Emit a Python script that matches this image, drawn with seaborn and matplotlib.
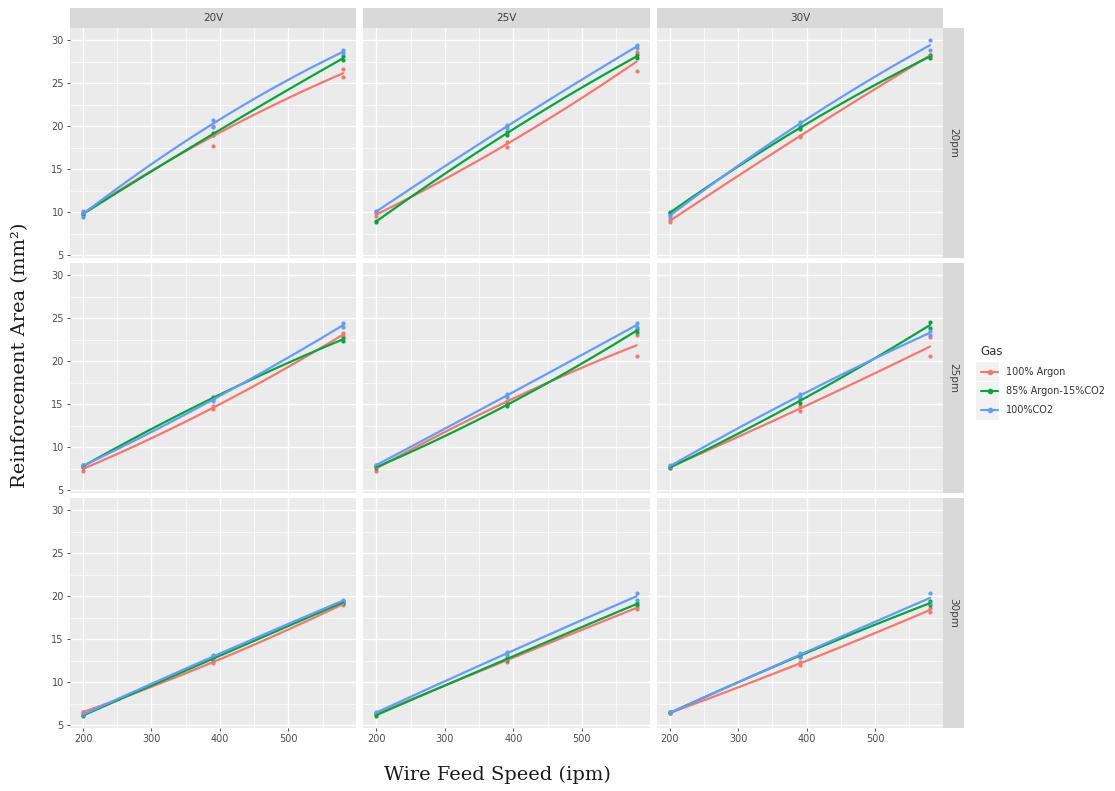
import numpy as np
import pandas as pd
import seaborn as sns
import matplotlib
matplotlib.use("Agg")
import matplotlib.pyplot as plt
from matplotlib.lines import Line2D
from matplotlib.patches import Rectangle
from matplotlib.ticker import MultipleLocator

# ---- data -----------------------------------------------------------------
gases = ["100% Argon", "85% Argon-15%CO2", "100%CO2"]
voltages = ["20V", "25V", "30V"]
flows = ["20pm", "25pm", "30pm"]
speeds = [200, 390, 580]

# per gas: one entry per (flow, voltage) panel, flow-major;
# each panel holds two replicate areas at each wire feed speed
argon = [
    [[9.8, 10.0], [17.7, 20.0], [26.6, 25.7]],
    [[9.6, 9.9], [18.2, 17.6], [28.6, 26.4]],
    [[8.9, 9.1], [18.8, 18.9], [28.1, 28.3]],
    [[7.3, 7.7], [14.8, 14.4], [23.3, 22.9]],
    [[7.3, 7.8], [15.4, 15.2], [23.1, 20.6]],
    [[7.6, 7.8], [14.8, 14.2], [22.8, 20.6]],
    [[6.6, 6.5], [12.2, 12.5], [19.0, 19.2]],
    [[6.4, 6.3], [12.4, 12.7], [18.8, 18.5]],
    [[6.5, 6.4], [12.4, 12.0], [18.6, 18.2]],
]
mix = [
    [[9.7, 9.9], [19.0, 19.2], [28.1, 27.7]],
    [[8.9, 9.0], [19.3, 19.0], [28.3, 27.9]],
    [[9.9, 10.0], [19.7, 19.9], [28.3, 27.9]],
    [[7.7, 7.9], [15.9, 15.6], [22.7, 22.4]],
    [[7.8, 7.6], [15.0, 14.8], [23.7, 23.4]],
    [[7.7, 7.6], [15.2, 15.6], [24.6, 23.8]],
    [[6.2, 6.1], [12.6, 12.9], [19.2, 19.4]],
    [[6.1, 6.3], [12.6, 12.8], [19.2, 19.0]],
    [[6.4, 6.5], [13.2, 13.0], [19.4, 19.0]],
]
co2 = [
    [[9.5, 10.1], [20.7, 19.9], [28.8, 28.5]],
    [[10.0, 10.2], [20.1, 19.8], [29.4, 29.1]],
    [[9.5, 9.7], [20.5, 20.1], [30.0, 28.8]],
    [[7.9, 7.8], [15.4, 15.7], [24.4, 24.0]],
    [[7.9, 8.0], [16.2, 15.8], [24.4, 24.0]],
    [[7.7, 7.9], [16.2, 15.8], [23.5, 23.1]],
    [[6.3, 6.2], [13.2, 12.8], [19.6, 19.4]],
    [[6.6, 6.4], [13.5, 13.2], [20.4, 19.6]],
    [[6.4, 6.5], [13.4, 13.0], [20.4, 19.2]],
]
palette = ["#F8766D", "#00A83A", "#619CFF"]

# ---- long table -------------------------------------------------------------
rows = []
for gas, series in zip(gases, [argon, mix, co2]):
    for p, panel in enumerate(series):
        flow, volt = flows[p // 3], voltages[p % 3]
        for spd, reps in zip(speeds, panel):
            for v in reps:
                rows.append({"Gas": gas, "Flow": flow, "Voltage": volt,
                             "Speed": spd, "Area": v})
df = pd.DataFrame(rows)

# ---- style ------------------------------------------------------------------
sns.set_theme(style="darkgrid", rc={
    "axes.facecolor": "#EBEBEB",
    "grid.color": "white",
    "axes.edgecolor": "none",
    "xtick.bottom": True, "ytick.left": True,
    "xtick.major.size": 2.5, "ytick.major.size": 2.5,
    "xtick.major.width": 0.6, "ytick.major.width": 0.6,
    "xtick.color": "#333333", "ytick.color": "#333333",
    "xtick.labelcolor": "#4D4D4D", "ytick.labelcolor": "#4D4D4D",
    "xtick.labelsize": 7, "ytick.labelsize": 7,
    "xtick.major.pad": 2, "ytick.major.pad": 2,
})

g = sns.lmplot(data=df, x="Speed", y="Area", hue="Gas", row="Flow", col="Voltage",
               hue_order=gases, row_order=flows, col_order=voltages,
               palette=palette, order=2, ci=None, legend=False,
               scatter_kws={"s": 9, "alpha": 1, "linewidths": 0},
               line_kws={"lw": 1.6},
               facet_kws={"sharex": True, "sharey": True, "margin_titles": False})

fig = g.figure
W, H = 1115, 791
fig.set_size_inches(W / 100, H / 100)
fig.subplots_adjust(left=70 / W, right=943 / W, top=1 - 28 / H, bottom=1 - 728 / H,
                    wspace=0.025, hspace=0.022)

strip_col = "#D9D9D9"
for i, flow in enumerate(flows):
    for j, volt in enumerate(voltages):
        ax = g.axes[i, j]
        ax.set_title("")
        ax.set_xlabel("")
        ax.set_ylabel("")
        ax.set_xlim(181, 599)
        ax.set_ylim(4.7, 31.4)
        ax.xaxis.set_major_locator(MultipleLocator(100))
        ax.xaxis.set_minor_locator(MultipleLocator(50))
        ax.yaxis.set_major_locator(MultipleLocator(5))
        ax.yaxis.set_minor_locator(MultipleLocator(2.5))
        ax.grid(which="major", color="white", lw=1.0)
        ax.grid(which="minor", color="white", lw=0.5)
        ax.tick_params(which="minor", length=0)
        ax.set_axisbelow(True)
        if i == 0:
            ax.add_patch(Rectangle((0, 1), 1, 20 / 230, transform=ax.transAxes,
                                   facecolor=strip_col, edgecolor="none", clip_on=False))
            ax.text(0.5, 1 + 10 / 230, volt, transform=ax.transAxes, ha="center",
                    va="center", fontsize=7.5, color="#404040")
        if j == 2:
            ax.add_patch(Rectangle((1, 0), 21 / 287, 1, transform=ax.transAxes,
                                   facecolor=strip_col, edgecolor="none", clip_on=False))
            ax.text(1 + 10.5 / 287, 0.5, flow, transform=ax.transAxes, ha="center",
                    va="center", rotation=-90, fontsize=7.5, color="#404040")
        if j != 0:
            ax.tick_params(axis="y", left=False)
        if i != 2:
            ax.tick_params(axis="x", bottom=False)

# axis titles
fig.text(20 / W, 1 - 355 / H, "Reinforcement Area (mm²)", rotation=90,
         ha="center", va="center", fontsize=14, family="DejaVu Serif", color="#1A1A1A")
fig.text(497 / W, 1 - 775 / H, "Wire Feed Speed (ipm)", ha="center", va="center",
         fontsize=14, family="DejaVu Serif", color="#1A1A1A")

# legend
handles = [Line2D([], [], color=c, lw=1.5, marker="o", ms=3) for c in palette]
leg = fig.legend(handles, gases, title="Gas", loc="upper left",
                 bbox_to_anchor=(972 / W, 1 - 336 / H), frameon=False,
                 fontsize=7, title_fontsize=8.5, handlelength=1.8,
                 labelspacing=0.95, alignment="left")
for t in leg.get_texts():
    t.set_color("#333333")
leg.get_title().set_color("#333333")

# grey tiles behind each legend key, placed from the rendered key positions
fig.canvas.draw()
renderer = fig.canvas.get_renderer()
inv = fig.transFigure.inverted()
for txt in leg.get_texts():
    bb = txt.get_window_extent(renderer)
    cy = (bb.y0 + bb.y1) / 2
    x0, y0 = inv.transform((bb.x0 - 30, cy - 9.5))
    x1, y1 = inv.transform((bb.x0 - 7, cy + 9.5))
    fig.add_artist(Rectangle((x0, y0), x1 - x0, y1 - y0, transform=fig.transFigure,
                             facecolor="#F2F2F2", edgecolor="none", zorder=-1))

fig.savefig("out.png", dpi=100, facecolor="white")
